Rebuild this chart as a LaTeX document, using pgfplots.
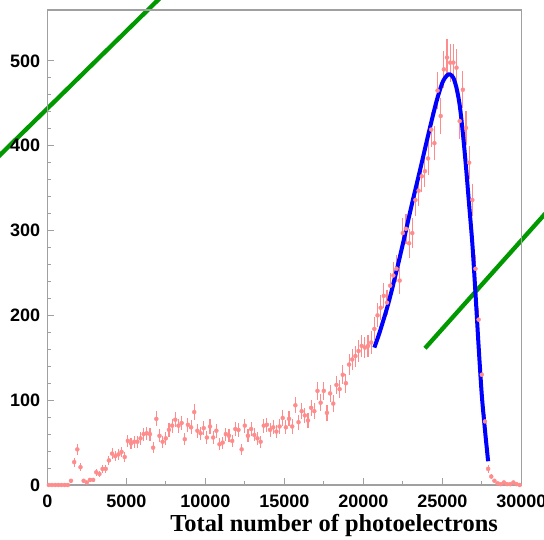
\documentclass[border=0pt]{standalone}
\usepackage{fontspec}
\setmainfont{Liberation Serif}
\setsansfont{Liberation Sans}
\usepackage{pgfplots}
\usepackage{pgfplotstable}
\pgfplotsset{compat=1.18}
\definecolor{rootgreen}{HTML}{009900}
\definecolor{framegray}{HTML}{A0A0A0}
\definecolor{histred}{HTML}{FF8C8C}

% histogram: bin centre, content, sqrt(N) error (bin width 200)
\pgfplotstableread{
x y ey
100 0 0
300 0 0
500 0 0
700 0 0
900 0 0
1100 0 0
1300 0 0
1500 5 2.2
1700 27 5.2
1900 42 6.5
2100 21 4.6
2300 5 2.2
2500 3 1.7
2700 6 2.4
2900 6 2.4
3100 15 3.9
3300 13 3.6
3500 19 4.4
3700 19 4.4
3900 29 5.4
4100 37 6.1
4300 34 5.8
4500 36 6.0
4700 39 6.2
4900 33 5.7
5100 52 7.2
5300 49 7.0
5500 51 7.1
5700 51 7.1
5900 55 7.4
6100 60 7.7
6300 61 7.8
6500 60 7.7
6700 44 6.6
6900 78 8.8
7100 58 7.6
7300 51 7.1
7500 55 7.4
7700 65 8.1
7900 70 8.4
8100 77 8.8
8300 70 8.4
8500 73 8.5
8700 54 7.3
8900 71 8.4
9100 68 8.2
9300 86 9.3
9500 64 8.0
9700 61 7.8
9900 67 8.2
10100 56 7.5
10300 69 8.3
10500 56 7.5
10700 64 8.0
10900 48 6.9
11100 50 7.1
11300 60 7.7
11500 58 7.6
11700 52 7.2
11900 66 8.1
12100 65 8.1
12300 42 6.5
12500 70 8.4
12700 58 7.6
12900 66 8.1
13100 59 7.7
13300 55 7.4
13500 51 7.1
13700 70 8.4
13900 71 8.4
14100 65 8.1
14300 68 8.2
14500 63 7.9
14700 69 8.3
14900 79 8.9
15100 68 8.2
15300 78 8.8
15500 69 8.3
15700 94 9.7
15900 74 8.6
16100 87 9.3
16300 82 9.1
16500 76 8.7
16700 91 9.5
16900 87 9.3
17100 111 10.5
17300 97 9.8
17500 111 10.5
17700 85 9.2
17900 108 10.4
18100 96 9.8
18300 118 10.9
18500 113 10.6
18700 130 11.4
18900 120 11.0
19100 142 11.9
19300 148 12.2
19500 152 12.3
19700 158 12.6
19900 164 12.8
20100 162 12.7
20300 164 12.8
20500 168 13.0
20700 184 13.6
20900 200 14.1
21100 209 14.5
21300 223 14.9
21500 215 14.7
21700 235 15.3
21900 247 15.7
22100 255 16.0
22300 241 15.5
22500 297 17.2
22700 302 17.4
22900 285 16.9
23100 297 17.2
23300 336 18.3
23500 347 18.6
23700 364 19.1
23900 370 19.2
24100 385 19.6
24300 419 20.5
24500 403 20.1
24700 465 21.6
24900 435 20.9
25100 490 22.1
25300 504 22.4
25500 498 22.3
25700 498 22.3
25900 492 22.2
26100 429 20.7
26300 466 21.6
26500 421 20.5
26700 380 19.5
26900 336 18.3
27100 255 16.0
27300 195 14.0
27500 130 11.4
27700 75 8.7
27900 19 4.4
28100 10 3.2
28300 5 2.2
28500 2 1.4
28700 1 1.0
28900 3 1.7
29100 1 1.0
29300 1 1.0
29500 3 1.7
29700 1 1.0
29900 0 0
}\histdata

\begin{document}
\begin{tikzpicture}
\useasboundingbox (-47.3pt,-54pt) rectangle (496.7pt,485pt);

% green overlay strokes
\draw[rootgreen, line width=4.3pt] (-57.3pt,320.2pt) -- (120.7pt,494.8pt);
\draw[rootgreen, line width=4.3pt] (377.7pt,136.7pt) -- (506.7pt,281.2pt);

\begin{axis}[
    at={(0pt,0pt)}, anchor=south west,
    scale only axis, width=474pt, height=475pt,
    xmin=0, xmax=30000, ymin=0, ymax=560,
    xtick={0,5000,...,30000}, minor x tick num=1,
    ytick={0,100,...,500}, minor y tick num=4,
    scaled x ticks=false,
    /pgf/number format/1000 sep={},
    /pgf/number format/assume math mode=true,
    axis line style={framegray, line width=1.2pt},
    tick style={framegray, line width=1pt},
    tick align=inside, tick pos=left,
    major tick length=7pt, minor tick length=4pt,
    tick label style={font=\fontsize{18}{18}\selectfont\sffamily\bfseries, inner sep=0pt, black},
    xticklabel style={yshift=-10pt},
    yticklabel style={xshift=-7pt},
    xlabel={Total number of photoelectrons},
    xlabel style={at={(rel axis cs:1,0)}, anchor=base east, xshift=-23.3pt, yshift=-46.7pt,
                  inner sep=0pt, font=\fontsize{24.4}{24.4}\selectfont\rmfamily\bfseries},
]

\addplot[only marks, mark=none, histred,
    error bars/.cd, x dir=both, x fixed=100, y dir=both, y explicit,
    error mark=none, error bar style={line width=1.1pt, histred}]
    table[x=x, y=y, y error=ey] {\histdata};

% fit curve
\addplot[blue, line width=4pt, smooth, tension=0.5] coordinates {
    (20700,162) (21000,178) (21300,196) (21600,215) (21900,237) (22200,260)
    (22600,292) (23100,333) (23600,372) (24100,412) (24600,450) (25000,474)
    (25300,483) (25500,484) (25700,480) (25900,468) (26100,448) (26300,415)
    (26500,375) (26700,330) (26900,285) (27100,226) (27300,163) (27500,106)
    (27700,65) (27900,28)
};

\end{axis}
\end{tikzpicture}
\end{document}
